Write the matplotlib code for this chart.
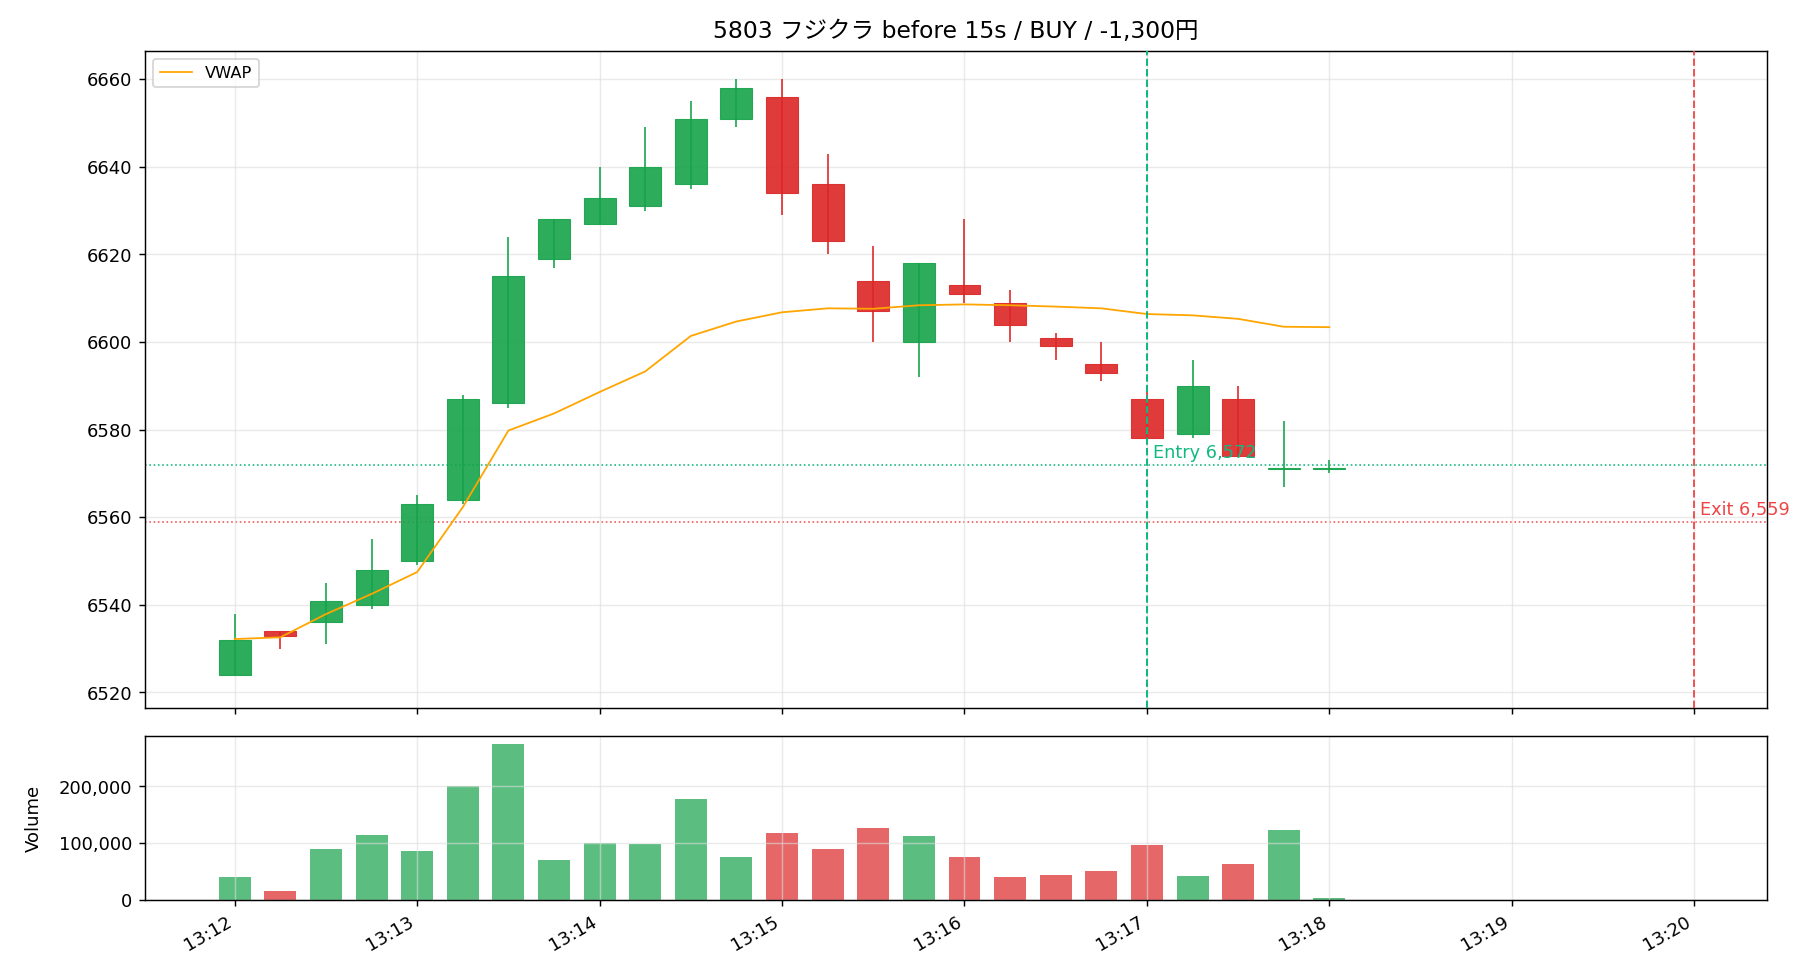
import matplotlib
matplotlib.use("Agg")
import matplotlib.pyplot as plt
import matplotlib.dates as mdates
from matplotlib.ticker import FuncFormatter
import pandas as pd

plt.rcParams.update({
    "font.family": ["DejaVu Sans", "Noto Sans CJK JP"],
    "font.size": 10,
})

GREEN = "#16a34a"
RED = "#dc2626"
ENTRY_COLOR = "#10b981"
EXIT_COLOR = "#ef4444"
VWAP_COLOR = "orange"

times = pd.date_range("2024-01-01 13:12:00", periods=25, freq="15s")
opens = [6524, 6534, 6536, 6540, 6550, 6564, 6586, 6619, 6627, 6631, 6636, 6651,
         6656, 6636, 6614, 6600, 6613, 6609, 6601, 6595, 6587, 6579, 6587, 6571, 6571]
highs = [6538, 6534, 6545, 6555, 6565, 6588, 6624, 6628, 6640, 6649, 6655, 6660,
         6660, 6643, 6622, 6618, 6628, 6612, 6602, 6600, 6590, 6596, 6590, 6582, 6573]
lows = [6524, 6530, 6531, 6539, 6549, 6563, 6585, 6617, 6627, 6630, 6635, 6649,
        6629, 6620, 6600, 6592, 6609, 6600, 6596, 6591, 6577, 6578, 6574, 6567, 6570]
closes = [6532, 6533, 6541, 6548, 6563, 6587, 6615, 6628, 6633, 6640, 6651, 6658,
          6634, 6623, 6607, 6618, 6611, 6604, 6599, 6593, 6578, 6590, 6574, 6571, 6571]
volumes = [40100, 15300, 89700, 114500, 86100, 201200, 275500, 70200, 100300, 98500,
           178200, 75500, 118000, 89700, 126800, 112700, 75500, 40100, 43700, 50700,
           96800, 41900, 63100, 123300, 3000]
vwap = [6532.2, 6532.6, 6537.9, 6542.5, 6547.5, 6562.3, 6579.8, 6583.7, 6588.6,
        6593.3, 6601.4, 6604.7, 6606.8, 6607.7, 6607.6, 6608.4, 6608.6, 6608.4,
        6608.1, 6607.7, 6606.4, 6606.1, 6605.3, 6603.5, 6603.4]

entry_time = pd.Timestamp("2024-01-01 13:17:00")
exit_time = pd.Timestamp("2024-01-01 13:20:00")
entry_price = 6572
exit_price = 6559
title = "5803 フジクラ before 15s / BUY / -1,300円"

fig, (ax, axv) = plt.subplots(
    2, 1, figsize=(14, 7.54), dpi=130, sharex=True,
    gridspec_kw={"height_ratios": [4, 1]},
)
fig.subplots_adjust(left=0.0797, right=0.971, top=0.948, bottom=0.0816, hspace=0.068)

width = 10.5 / 86400
for t, o, h, l, c in zip(times, opens, highs, lows, closes):
    color = GREEN if c >= o else RED
    x = mdates.date2num(t)
    ax.vlines(x, l, h, color=color, linewidth=0.9, zorder=2)
    body = max(abs(c - o), 0.3)
    ax.bar(x, body, width, bottom=min(o, c), color=color, alpha=0.9,
           edgecolor=color, linewidth=0.6, zorder=3)

ax.plot(times, vwap, color=VWAP_COLOR, linewidth=1.0, label="VWAP", zorder=4)

ax.axvline(entry_time, color=ENTRY_COLOR, linestyle="--", linewidth=1.1, zorder=5)
ax.axhline(entry_price, color=ENTRY_COLOR, linestyle=":", linewidth=0.9, zorder=1)
ax.text(mdates.date2num(entry_time) + 2 / 86400, entry_price + 0.6,
        f"Entry {entry_price:,}", color=ENTRY_COLOR, fontsize=9.8, va="bottom", ha="left")
ax.axvline(exit_time, color=EXIT_COLOR, linestyle="--", linewidth=1.1, alpha=0.9, zorder=5)
ax.axhline(exit_price, color=EXIT_COLOR, linestyle=":", linewidth=0.9, alpha=0.9, zorder=1)
ax.text(mdates.date2num(exit_time) + 2 / 86400, exit_price + 0.6,
        f"Exit {exit_price:,}", color=EXIT_COLOR, fontsize=9.8, va="bottom", ha="left")

ax.set_title(title, fontsize=13, pad=7)
ax.grid(True, color="#dddddd", alpha=0.6)
ax.legend(loc="upper left", fontsize=9)
ax.set_ylim(6516.5, 6666.5)

vol_colors = [GREEN if c >= o else RED for o, c in zip(opens, closes)]
axv.bar(mdates.date2num(times), volumes, width, color=vol_colors, alpha=0.7)
axv.set_ylabel("Volume", labelpad=9)
axv.yaxis.set_major_formatter(FuncFormatter(lambda v, p: f"{int(v):,}"))
axv.grid(True, color="#dddddd", alpha=0.6)

axv.set_xlim(pd.Timestamp("2024-01-01 13:11:30.5"), pd.Timestamp("2024-01-01 13:20:24"))
axv.xaxis.set_major_locator(mdates.MinuteLocator())
axv.xaxis.set_major_formatter(mdates.DateFormatter("%H:%M"))
for lbl in axv.get_xticklabels():
    lbl.set_rotation(30)
    lbl.set_ha("right")

fig.savefig("out.png")
